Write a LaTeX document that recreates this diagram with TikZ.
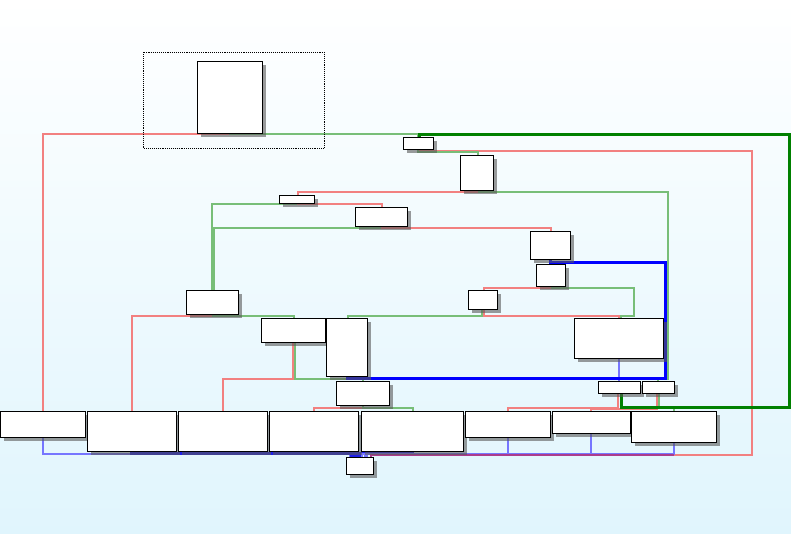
\documentclass[tikz,border=0pt]{standalone}
\usetikzlibrary{shadows,calc}
\definecolor{bgbot}{RGB}{224,245,253}
\definecolor{dkgreen}{RGB}{0,128,0}
\definecolor{lred}{RGB}{242,128,128}
\definecolor{lgrn}{RGB}{120,190,120}
\definecolor{lblu}{RGB}{118,118,255}
\definecolor{mblu}{RGB}{30,30,232}
\definecolor{purp}{RGB}{172,60,140}
\pgfdeclarelayer{bg}
\pgfdeclarelayer{edges}
\pgfsetlayers{bg,edges,main}
\begin{document}
\begin{tikzpicture}[x=1pt,y=-1pt,
  blk/.style={draw=black, line width=1.2pt, fill=white, inner sep=0pt, outer sep=0pt,
    drop shadow={shadow xshift=3.5pt, shadow yshift=-3.5pt, fill=black!65, opacity=0.6}},
  ered/.style={draw=lred, line width=2pt},
  egrn/.style={draw=lgrn, line width=2pt},
  eblu/.style={draw=lblu, line width=2pt},
  emblu/.style={draw=mblu, line width=2.2pt},
  epur/.style={draw=purp, line width=2pt},
  hgrn/.style={draw=dkgreen, line width=2.1pt},
  hblu/.style={draw=blue, line width=2.5pt},
  grp/.style={draw=black, line width=0.9pt, densely dotted}]
\useasboundingbox (0,0) rectangle (791,534);
\begin{pgfonlayer}{bg}
  \shade[top color=white, bottom color=bgbot] (0,0) rectangle (791,534);
\end{pgfonlayer}
% group box
\draw[grp] (143.5,52.5) rectangle (324.5,148.5);
% nodes
\node[blk, minimum width=65pt, minimum height=72pt] (n0) at (230,97.5) {};
\node[blk, minimum width=30pt, minimum height=12pt] (n1) at (418.5,143.5) {};
\node[blk, minimum width=33pt, minimum height=35pt] (n2) at (477,173) {};
\node[blk, minimum width=35pt, minimum height=8pt] (n3) at (297,199.5) {};
\node[blk, minimum width=52pt, minimum height=19pt] (n4) at (381.5,217) {};
\node[blk, minimum width=40pt, minimum height=28pt] (n5) at (550.5,245.5) {};
\node[blk, minimum width=29pt, minimum height=22pt] (n6) at (551,275.5) {};
\node[blk, minimum width=29pt, minimum height=19pt] (n7) at (483,300) {};
\node[blk, minimum width=52pt, minimum height=24pt] (n8) at (212.5,302.5) {};
\node[blk, minimum width=64pt, minimum height=24pt] (n9) at (293.5,330.5) {};
\node[blk, minimum width=41pt, minimum height=58pt] (n10) at (347,347.5) {};
\node[blk, minimum width=89pt, minimum height=40pt] (n11) at (619,338.5) {};
\node[blk, minimum width=53pt, minimum height=24pt] (n12) at (363,393.5) {};
\node[blk, minimum width=42pt, minimum height=12pt] (n13) at (619.5,387.5) {};
\node[blk, minimum width=32pt, minimum height=12pt] (n14) at (658.5,387.5) {};
\node[blk, minimum width=85pt, minimum height=26pt] (b1) at (43,424.5) {};
\node[blk, minimum width=89pt, minimum height=40pt] (b2) at (132,431.5) {};
\node[blk, minimum width=89pt, minimum height=40pt] (b3) at (223,431.5) {};
\node[blk, minimum width=89pt, minimum height=40pt] (b4) at (314,431.5) {};
\node[blk, minimum width=102pt, minimum height=40pt] (b5) at (412.5,431.5) {};
\node[blk, minimum width=85pt, minimum height=26pt] (b6) at (508,424.5) {};
\node[blk, minimum width=78pt, minimum height=22pt] (b7) at (591.5,422.5) {};
\node[blk, minimum width=85pt, minimum height=31pt] (b8) at (674,427) {};
\node[blk, minimum width=27pt, minimum height=17pt] (end) at (360,466) {};
\coordinate (mix) at (673.5,454.5);
% edges
\begin{pgfonlayer}{edges}
  \draw[ered] ([xshift=-0.5pt]n0.south) -- ++(0,1) -| ([xshift=-0.5pt]b1.north);
  \draw[egrn] ([xshift=-0.5pt]n0.south) -- ++(0,1) -| ([xshift=-1pt]n1.north);
  \draw[ered] ([xshift=1pt]n1.south) -- ++(0,2) -| (751.5,454.5) -- (mix);
  \draw[egrn] ([xshift=-1pt]n1.south) -- ++(0,3) -| ([xshift=0.5pt]n2.north);
  \draw[egrn] ([xshift=1.5pt]n2.south) -- ++(0,2) -| (667.5,378.5) -| ([xshift=-1pt]n14.north);
  \draw[egrn] ([xshift=-0.5pt]n3.south) -- ++(0,1) -| ([xshift=-1pt]n8.north);
  \draw[ered] ([xshift=0.5pt]n3.south) -- ++(0,1) -| (n4.north);
  \draw[ered] ([xshift=-0.5pt]n2.south) -- ++(0,2) -| ([xshift=0.5pt]n3.north);
  \draw[egrn] ([xshift=-1pt]n4.south) -- ++(0,2) -| ([xshift=1pt]n8.north);
  \draw[ered] (n4.south) -- ++(0,2) -| (n5.north);
  \draw[ered] ([xshift=-0.5pt]n6.south) -- ++(0,1) -| ([xshift=0.5pt]n7.north);
  \draw[egrn] ([xshift=0.5pt]n6.south) -- ++(0,1) -| (633.5,315.5) -| ([xshift=1.5pt]n11.north);
  \draw[egrn] ([xshift=-1.5pt]n7.south) -- ++(0,6) -| ([xshift=0.5pt]n10.north);
  \draw[ered] ([xshift=0.5pt]n7.south) -- ++(0,6) -| ([xshift=-0.5pt]n11.north);
  \draw[ered] ([xshift=-1pt]n8.south) -- ++(0,1) -| ([xshift=-0.5pt]b2.north);
  \draw[egrn] (n8.south) -- ++(0,1) -| (n9.north);
  \draw[ered] ([xshift=-1pt]n9.south) -- ++(0,36) -| ([xshift=-0.5pt]b3.north);
  \draw[egrn] ([xshift=1pt]n9.south) -- ++(0,36) -| ([xshift=-0.5pt]n12.north);
  \draw[eblu] ([xshift=-0.5pt]n11.south) -- ([xshift=-1pt]n13.north);
  \draw[ered] ([xshift=-0.5pt]n12.south) -- ++(0,2) -| ([xshift=-0.5pt]b4.north);
  \draw[egrn] ([xshift=-0.5pt]n12.south) -- ++(0,2) -| (b5.north);
  \draw[ered] ([xshift=-2pt]n13.south) -- ++(0,14) -| ([xshift=-0.5pt]b6.north);
  \draw[ered] ([xshift=-2pt]n14.south) -- ++(0,15) -| ([xshift=-1pt]b7.north);
  \draw[egrn] (n14.south) -- ++(0,14) -| ([xshift=-0.5pt]b8.north);
  \draw[eblu] ([xshift=-0.5pt]b1.south) -- ++(0,16) -| ([xshift=-10.5pt]end.north);
  \draw[emblu] ([xshift=-0.5pt]b2.south) -- ++(0,2) -| ([xshift=-8.5pt]end.north);
  \draw[emblu] ([xshift=-0.5pt]b3.south) -- ++(0,2) -| ([xshift=-5.5pt]end.north);
  \draw[emblu] ([xshift=-0.5pt]b4.south) -- ++(0,2) -| ([xshift=-3.5pt]end.north);
  \draw[emblu] (b5.south) -- ++(0,2) -| ([xshift=-0.5pt]end.north);
  \draw[eblu] ([xshift=-0.5pt]b6.south) -- ++(0,16) -| ([xshift=1.5pt]end.north);
  \draw[eblu] ([xshift=-1pt]b7.south) -- ++(0,20) -| ([xshift=4.5pt]end.north);
  \draw[eblu] ([xshift=-0.5pt]b8.south) -- ++(0,11) -| ([xshift=6.5pt]end.north);
  \draw[epur] (mix) -| ([xshift=10.5pt]end.north);
  % highlighted edges
  \draw[hblu] (n5.south) -- ([xshift=-0.5pt]n6.north);
  \draw[hblu] ([xshift=0.5pt]n10.south) -- ++(0,2) -| (665.5,262.5) -| ([xshift=-0.5pt]n6.north);
  \draw[hgrn] ([xshift=2pt]n13.south) |- (789.5,407.5) -- (789.5,134.5) -| ([xshift=1pt]n1.north);
\end{pgfonlayer}
\end{tikzpicture}
\end{document}
